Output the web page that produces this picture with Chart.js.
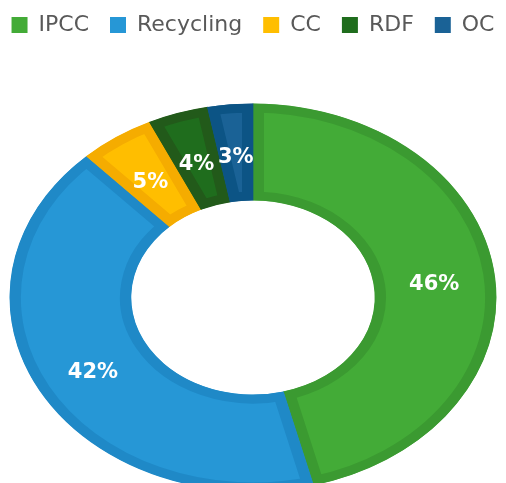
<!DOCTYPE html>
<html>
<head>
<meta charset="utf-8">
<script src="https://cdn.jsdelivr.net/npm/chart.js@4/dist/chart.umd.min.js"></script>
<style>
html,body{margin:0;padding:0;background:#fff;overflow:hidden;width:506px;height:483px;}
#wrap{width:506px;height:560px;}
</style>
</head>
<body>
<div id="wrap"><canvas id="c" width="506" height="560"></canvas></div>
<script>
const categories = ['IPCC', 'Recycling', 'CC', 'RDF', 'OC'];
const values = [46, 42, 5, 4, 3];
const percentLabels = ['46%', '42%', '5%', '4%', '3%'];
const fillColors = ['#43AB37', '#2697D6', '#FFBE00', '#1F6D1D', '#1A6296'];
const edgeColors = ['#3B9A31', '#1F89C7', '#F5AC00', '#225A1A', '#0C5485'];

const SQUISH = 0.797;
const LABEL_DY = 5;

const squishPlugin = {
  id: 'squish',
  beforeDatasetsDraw(chart) {
    const arc = chart.getDatasetMeta(0).data[0];
    const ctx = chart.ctx;
    ctx.save();
    ctx.translate(arc.x, arc.y);
    ctx.scale(1, SQUISH);
    ctx.translate(-arc.x, -arc.y);
  },
  afterDatasetsDraw(chart) {
    const ctx = chart.ctx;
    ctx.restore();
    const meta = chart.getDatasetMeta(0);
    ctx.save();
    ctx.font = 'bold 21px "DejaVu Sans"';
    ctx.fillStyle = '#ffffff';
    ctx.textAlign = 'center';
    ctx.textBaseline = 'middle';
    meta.data.forEach((arc, i) => {
      const p = arc.tooltipPosition();
      const y = arc.y + (p.y - arc.y) * SQUISH + LABEL_DY;
      ctx.fillText(percentLabels[i], p.x, y);
    });
    ctx.restore();
  }
};

new Chart(document.getElementById('c'), {
  type: 'doughnut',
  data: {
    labels: categories,
    datasets: [{
      data: values,
      backgroundColor: fillColors,
      borderColor: edgeColors,
      borderWidth: 11,
      borderAlign: 'inner',
      borderJoinStyle: 'miter',
      hoverOffset: 0
    }]
  },
  options: {
    responsive: false,
    animation: false,
    cutout: '50%',
    radius: '96.8%',
    layout: { padding: { top: -7, left: -10, right: -10, bottom: 11 } },
    plugins: {
      tooltip: { enabled: false },
      legend: {
        position: 'top',
        labels: {
          boxWidth: 16,
          boxHeight: 16,
          padding: 21,
          color: '#595959',
          font: { family: '"DejaVu Sans"', size: 22 },
          generateLabels(chart) {
            const items = Chart.overrides.doughnut.plugins.legend.labels.generateLabels(chart);
            items.forEach(it => { it.lineWidth = 0; it.strokeStyle = it.fillStyle; });
            return items;
          }
        }
      }
    }
  },
  plugins: [squishPlugin]
});
</script>
</body>
</html>
